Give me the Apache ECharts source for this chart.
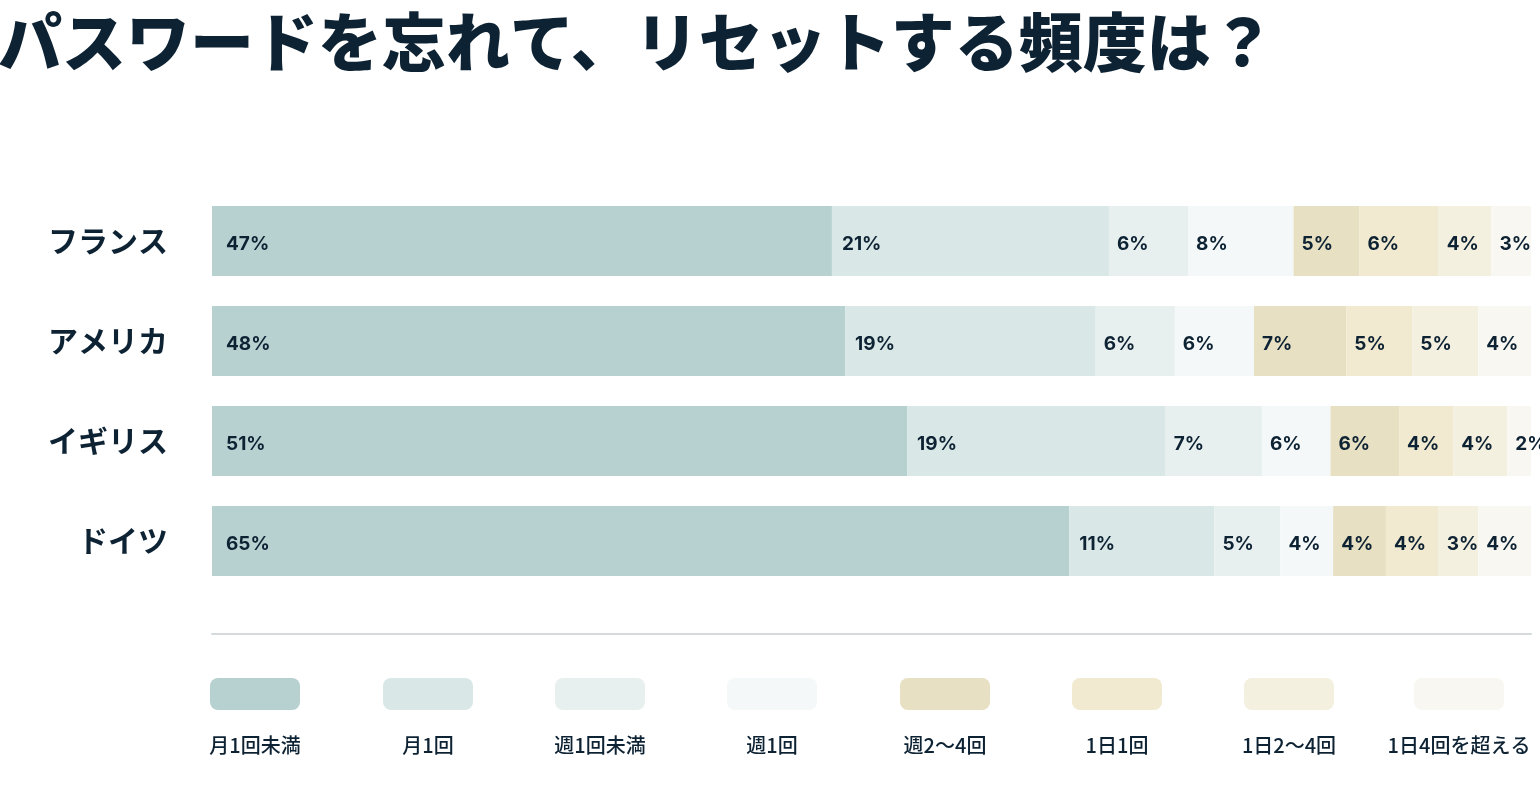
<!DOCTYPE html>
<html>
<head>
<meta charset="utf-8">
<script src="https://cdn.jsdelivr.net/npm/echarts@6/dist/echarts.min.js"></script>
<style>
  html, body { margin: 0; padding: 0; background: #fff; }
  #main { width: 1540px; height: 798px; }
</style>
</head>
<body>
<div id="main"></div>
<script>
// 国
const countries = ['フランス', 'アメリカ', 'イギリス', 'ドイツ'];
// 頻度
const freqNames = ['月1回未満', '月1回', '週1回未満', '週1回', '週2〜4回', '1日1回', '1日2〜4回', '1日4回を超える'];
const freqColors = ['#b7d1d1', '#d9e8e7', '#e8f0ef', '#f4f8f8', '#e8e0c2', '#f1ead0', '#f4f0e0', '#f8f7f1'];

// 表示されている割合 (%)
const pctFrance = [47, 21, 6, 8, 5, 6, 4, 3];
const pctUSA = [48, 19, 6, 6, 7, 5, 5, 4];
const pctUK = [51, 19, 7, 6, 6, 4, 4, 2];
const pctGermany = [65, 11, 5, 4, 4, 4, 3, 4];
// イギリスの棒は表示値と長さが合っていないので、描かれている長さを別に持つ
const barUK = [52.7, 19.6, 7.3, 5.2, 5.2, 4.1, 4.1, 1.8];

const rows = [
  { bars: pctFrance, labels: pctFrance },
  { bars: pctUSA, labels: pctUSA },
  { bars: barUK, labels: pctUK },
  { bars: pctGermany, labels: pctGermany }
];

const textColor = '#0d2233';
const legendCenters = [255, 428, 600, 772, 945, 1117, 1289, 1459];

const chart = echarts.init(document.getElementById('main'));

const series = freqNames.map(function (name, i) {
  return {
    name: name,
    type: 'bar',
    stack: 'total',
    barWidth: 70,
    itemStyle: { color: freqColors[i] },
    label: {
      show: true,
      position: 'insideLeft',
      distance: i === 0 ? 14 : (i === 1 ? 10 : 8),
      offset: [0, 3],
      color: textColor,
      fontFamily: 'Inter',
      fontWeight: 'bold',
      fontSize: 19,
      formatter: function (p) {
        return rows[p.dataIndex].labels[i] + '%';
      }
    },
    emphasis: { disabled: true },
    data: rows.map(function (r) { return r.bars[i]; })
  };
});

const legends = freqNames.map(function (name, i) {
  return {
    data: [name],
    left: legendCenters[i] - 45,
    top: 678,
    padding: 0,
    icon: 'roundRect',
    itemWidth: 90,
    itemHeight: 32,
    selectedMode: false,
    formatter: function () { return ''; }
  };
});

const legendTexts = freqNames.map(function (name, i) {
  return {
    type: 'text',
    x: legendCenters[i],
    y: 745,
    style: {
      text: name,
      fill: textColor,
      font: '500 20px "Noto Sans CJK JP"',
      textAlign: 'center',
      textVerticalAlign: 'middle'
    }
  };
});

const options = {
  backgroundColor: '#ffffff',
  animation: false,
  title: {
    text: 'パスワードを忘れて、リセットする頻度は？',
    left: -2,
    top: 10,
    padding: 0,
    textStyle: {
      color: textColor,
      fontFamily: 'Noto Sans CJK JP',
      fontWeight: 900,
      fontSize: 64
    }
  },
  legend: legends,
  grid: {
    left: 212,
    right: 9,
    top: 191,
    height: 400
  },
  xAxis: {
    type: 'value',
    min: 0,
    max: 100,
    offset: 43,
    axisLine: { show: true, lineStyle: { color: '#d5dadd', width: 2 } },
    axisTick: { show: false },
    axisLabel: { show: false },
    splitLine: { show: false }
  },
  yAxis: {
    type: 'category',
    inverse: true,
    data: countries,
    axisLine: { show: false },
    axisTick: { show: false },
    axisLabel: {
      margin: 44,
      padding: [8, 0, 0, 0],
      color: textColor,
      fontFamily: 'Noto Sans CJK JP',
      fontWeight: 'bold',
      fontSize: 30
    }
  },
  graphic: legendTexts,
  series: series
};

chart.setOption(options);
</script>
</body>
</html>
